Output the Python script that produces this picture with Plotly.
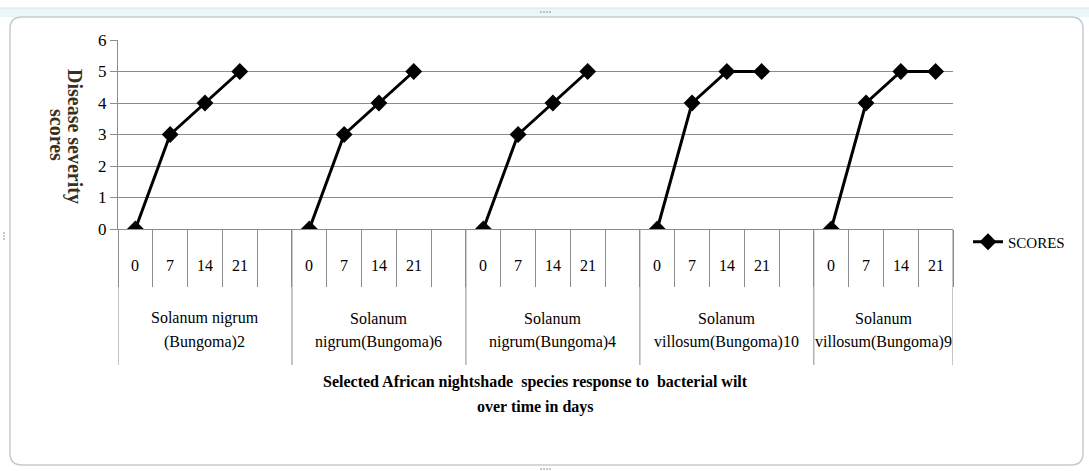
import plotly.graph_objects as go

# ---- data -------------------------------------------------------------
days = ["0", "7", "14", "21"]
group_line1 = ["Solanum nigrum", "Solanum", "Solanum", "Solanum", "Solanum"]
group_line2 = ["(Bungoma)2", "nigrum(Bungoma)6", "nigrum(Bungoma)4",
               "villosum(Bungoma)10", "villosum(Bungoma)9"]
scores = [
    [0, 3, 4, 5],
    [0, 3, 4, 5],
    [0, 3, 4, 5],
    [0, 4, 5, 5],
    [0, 4, 5, 5],
]
y_ticks = [0, 1, 2, 3, 4, 5, 6]
series_name = "SCORES"
x_title = ["Selected African nightshade  species response to  bacterial wilt",
           "over time in days"]
y_title = ["Disease severity", "scores"]

# ---- layout geometry (pixels) ----------------------------------------
W, H = 1089, 471
L, R, T, B = 118, 136, 40, 242
PW, PH = W - L - R, H - T - B
SERIF = "Liberation Serif, Times New Roman, serif"
GRID = "#8c8c8c"


def xp(px):
    return (px - L) / PW


def yp(py):
    return (H - B - py) / PH


slot = len(days) + 1                     # days + one empty slot per group
n_groups = len(scores)
n_slots = slot * n_groups - 1

# x positions with a gap between groups
xs, ys = [], []
for g, vals in enumerate(scores):
    for j, v in enumerate(vals):
        xs.append(g * slot + j)
        ys.append(v)
    if g < n_groups - 1:
        xs.append(g * slot + len(days))
        ys.append(None)

fig = go.Figure()
fig.add_trace(go.Scatter(
    x=xs, y=ys, mode="lines+markers", name=series_name,
    connectgaps=False,
    line=dict(color="black", width=3),
    marker=dict(symbol="diamond", size=13, color="black"),
))

shapes = []
annotations = []


def label(x, y, text, size=16, xref="x", color="black", angle=0):
    return dict(x=x, y=y, xref=xref, yref="paper", text=text, showarrow=False,
                xanchor="center", yanchor="middle", textangle=angle,
                font=dict(family=SERIF, size=size, color=color))


# category boundary ticks and group separators
for g in range(n_groups + 1):
    xb = min(g * slot - 0.5, n_slots - 0.5)
    shapes.append(dict(type="line", xref="x", yref="paper",
                       x0=xb, x1=xb, y0=0, y1=yp(365),
                       line=dict(color=GRID, width=1)))

# day labels and group labels
for g in range(n_groups):
    for j, d in enumerate(days):
        annotations.append(label(g * slot + j, yp(265), d))
    start = g * slot - 0.5
    end = min(start + slot, n_slots - 0.5)
    cx = (start + end) / 2
    annotations.append(label(cx, yp(318), group_line1[g]))
    annotations.append(label(cx, yp(342), group_line2[g]))

# axis titles
annotations.append(label(0.5, yp(382), "<b>" + x_title[0] + "</b>", size=16, xref="paper"))
annotations.append(label(0.5, yp(407), "<b>" + x_title[1] + "</b>", size=16, xref="paper"))
annotations.append(label(xp(75), yp(136), "<b>" + y_title[0] + "</b>",
                         size=20, xref="paper", color="#3a3020", angle=90))
annotations.append(label(xp(57), yp(135), "<b>" + y_title[1] + "</b>",
                         size=20, xref="paper", color="#3a3020", angle=90))


# outer chart frame with rounded corners
def rounded_rect(x0, y0, x1, y1, r):
    rx, ry = r / PW, r / PH
    X0, X1 = xp(x0), xp(x1)
    Y0, Y1 = yp(y0), yp(y1)          # Y0 top, Y1 bottom
    return (f"M {X0 + rx},{Y0} L {X1 - rx},{Y0} Q {X1},{Y0} {X1},{Y0 - ry} "
            f"L {X1},{Y1 + ry} Q {X1},{Y1} {X1 - rx},{Y1} "
            f"L {X0 + rx},{Y1} Q {X0},{Y1} {X0},{Y1 + ry} "
            f"L {X0},{Y0 - ry} Q {X0},{Y0} {X0 + rx},{Y0} Z")


shapes.append(dict(type="rect", xref="paper", yref="paper", layer="below",
                   x0=xp(0), x1=xp(W), y0=yp(8), y1=yp(17),
                   fillcolor="#eaf6f8", line=dict(width=0)))
shapes.append(dict(type="line", xref="paper", yref="paper", layer="below",
                   x0=xp(0), x1=xp(W), y0=yp(8), y1=yp(8),
                   line=dict(color="#d8e6ea", width=1)))
shapes.append(dict(type="path", xref="paper", yref="paper", layer="below",
                   path=rounded_rect(10, 17, 1083, 465, 12),
                   fillcolor="white", line=dict(color="#c3cbcf", width=1.5)))
# small grip dots on the frame
for cx, cy in [(541, 12), (544, 12), (547, 12), (550, 12),
               (4, 233), (4, 236), (4, 239),
               (541, 469), (544, 469), (547, 469), (550, 469)]:
    shapes.append(dict(type="rect", xref="paper", yref="paper", layer="below",
                       x0=xp(cx - 0.8), x1=xp(cx + 0.8), y0=yp(cy - 0.8), y1=yp(cy + 0.8),
                       fillcolor="#9aa4a8", line=dict(width=0)))

fig.update_layout(
    width=W, height=H, autosize=False,
    margin=dict(l=L, r=R, t=T, b=B, pad=0),
    paper_bgcolor="white", plot_bgcolor="white",
    showlegend=True,
    legend=dict(x=xp(968), y=yp(242), xanchor="left", yanchor="middle",
                bgcolor="rgba(0,0,0,0)", itemwidth=30,
                font=dict(family=SERIF, size=15, color="black")),
    xaxis=dict(range=[-0.5, n_slots - 0.5], showgrid=False, zeroline=False,
               showline=True, linecolor=GRID, linewidth=1,
               tickmode="array", tickvals=[k + 0.5 for k in range(-1, n_slots)],
               ticks="outside", ticklen=57, tickcolor=GRID, tickwidth=1,
               showticklabels=False, fixedrange=True),
    yaxis=dict(range=[0, 6], tickmode="array", tickvals=y_ticks,
               ticktext=[str(v) for v in y_ticks],
               showgrid=True, gridcolor=GRID, gridwidth=1, zeroline=False,
               showline=True, linecolor=GRID, linewidth=1,
               ticks="outside", ticklen=7, tickcolor=GRID,
               tickfont=dict(family=SERIF, size=17, color="black"),
               fixedrange=True),
    shapes=shapes,
    annotations=annotations,
)

fig.write_html("out.html")
